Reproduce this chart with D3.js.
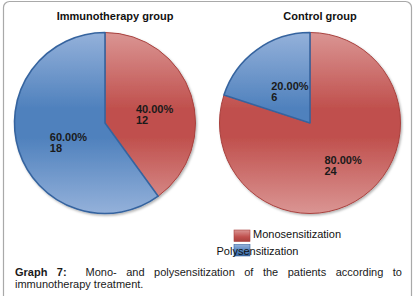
<!DOCTYPE html>
<html>
<head>
<meta charset="utf-8">
<script src="https://cdn.jsdelivr.net/npm/d3@7"></script>
<style>
  html, body { margin: 0; padding: 0; background: #fff; }
  svg { display: block; }
  text { font-family: "Liberation Sans", Arial, sans-serif; }
</style>
</head>
<body>
<svg id="chart" width="415" height="296"></svg>
<script>
const groups = ["Immunotherapy group", "Control group"];
const categories = ["Monosensitization", "Polysensitization"];
const immunotherapyValues = [12, 18];
const controlValues = [24, 6];
const captionLabel = ["Graph", "7:"];
const captionLine1 = ["Mono-", "and", "polysensitization", "of", "the", "patients", "according", "to"];
const captionLine2 = "immunotherapy treatment.";

const seriesByGroup = [immunotherapyValues, controlValues];

const svg = d3.select("#chart");
const defs = svg.append("defs");

const colors = {
  Monosensitization: { light: "#da9593", dark: "#c0504d", stroke: "#a8413e" },
  Polysensitization: { light: "#94b1da", dark: "#4f81bd", stroke: "#36649f" }
};

const radius = 90.5;
const cy = 123;
const xCenter = d3.scalePoint().domain(groups).range([105, 310]);

categories.forEach((c, i) => {
  // user space of the paths is the pie's own (centred) coordinate system
  const g = defs.append("linearGradient")
    .attr("id", "grad" + i)
    .attr("gradientUnits", "userSpaceOnUse")
    .attr("x1", 0).attr("x2", 0)
    .attr("y1", -radius).attr("y2", radius);
  g.append("stop").attr("offset", 0).attr("stop-color", colors[c].light);
  g.append("stop").attr("offset", 0.42).attr("stop-color", colors[c].dark);
  g.append("stop").attr("offset", 0.58).attr("stop-color", colors[c].dark);
  g.append("stop").attr("offset", 1).attr("stop-color", colors[c].light);

  const s = defs.append("linearGradient")
    .attr("id", "sw" + i)
    .attr("x1", 0).attr("x2", 0).attr("y1", 0).attr("y2", 1);
  s.append("stop").attr("offset", 0).attr("stop-color", colors[c].light);
  s.append("stop").attr("offset", 0.6).attr("stop-color", colors[c].dark);
  s.append("stop").attr("offset", 1).attr("stop-color", colors[c].stroke);
});

const f = defs.append("filter").attr("id", "shadow")
  .attr("x", "-10%").attr("y", "-10%").attr("width", "130%").attr("height", "130%");
f.append("feDropShadow").attr("dx", 1.2).attr("dy", 1.5)
  .attr("stdDeviation", 1.2).attr("flood-color", "#000").attr("flood-opacity", 0.3);

svg.append("rect")
  .attr("x", 3.5).attr("y", 1.5)
  .attr("width", 408).attr("height", 330)
  .attr("rx", 6)
  .attr("fill", "none")
  .attr("stroke", "#a9a9a9")
  .attr("stroke-width", 1.2);

const pie = d3.pie().sort(null).value(d => d);
const arc = d3.arc().innerRadius(0).outerRadius(radius);
const labelArc = d3.arc().innerRadius(radius * 0.5).outerRadius(radius * 0.5);
const fmt = d3.format(".2%");

groups.forEach((grp, gi) => {
  const vals = seriesByGroup[gi];
  const total = d3.sum(vals);
  const cx = xCenter(grp);
  const g = svg.append("g").attr("transform", `translate(${cx},${cy})`);

  g.append("text")
    .attr("x", 10).attr("y", 20 - cy)
    .attr("text-anchor", "middle")
    .attr("font-size", 11).attr("font-weight", "bold")
    .attr("fill", "#111")
    .text(grp);

  const slices = g.append("g").attr("filter", "url(#shadow)");
  const arcs = pie(vals);
  slices.selectAll("path").data(arcs).join("path")
    .attr("d", arc)
    .attr("fill", (d, i) => `url(#grad${i})`)
    .attr("stroke", (d, i) => colors[categories[i]].stroke)
    .attr("stroke-width", (d, i) => i === 1 ? 1.6 : 1)
    .attr("stroke-linejoin", "round");

  arcs.forEach((d, i) => {
    const [lx, ly] = labelArc.centroid(d);
    const bx = lx + 6.5, by = ly + 5.5;
    const t = g.append("text")
      .attr("font-size", 11).attr("font-weight", "bold")
      .attr("fill", "#1a1a1a");
    const t1 = t.append("tspan").attr("y", by - 1.5).text(fmt(d.data / total));
    const w = t1.node().getComputedTextLength();
    const left = bx - w / 2;
    t1.attr("x", left);
    t.append("tspan").attr("x", left).attr("y", by + 9.5).text(d.data);
  });
});

const legendSwatchX = 234;
const legendRows = [
  { y: 230, tx: 253, ty: 238 },
  { y: 244.5, tx: 216.5, ty: 254.5 }
];
categories.forEach((c, i) => {
  const r = legendRows[i];
  svg.append("rect")
    .attr("x", legendSwatchX).attr("y", r.y)
    .attr("width", 16).attr("height", 11.5)
    .attr("fill", `url(#sw${i})`)
    .attr("stroke", colors[c].stroke).attr("stroke-width", 0.6);
  svg.append("text")
    .attr("x", r.tx).attr("y", r.ty)
    .attr("font-size", 11)
    .attr("fill", "#111")
    .text(c);
});

const capLeft = 15, capRight = 402, capY1 = 275.5, capY2 = 287.5;
const capG = svg.append("g");
const tokens = [
  { text: captionLabel[0], bold: true, gapAfter: 1 },
  { text: captionLabel[1], bold: true, gapAfter: 2 },
  ...captionLine1.map((t, i) => ({ text: t, bold: false, gapAfter: i < captionLine1.length - 1 ? 1 : 0 }))
];
const nodes = tokens.map(tk => {
  const n = capG.append("text")
    .attr("y", capY1)
    .attr("font-size", 11)
    .attr("font-weight", tk.bold ? "bold" : "normal")
    .attr("fill", "#1a1a1a")
    .text(tk.text);
  return { n, w: n.node().getComputedTextLength(), gap: tk.gapAfter };
});
const totalW = d3.sum(nodes, d => d.w);
const totalGap = d3.sum(nodes, d => d.gap);
const unit = (capRight - capLeft - totalW) / totalGap;
let xx = capLeft;
nodes.forEach(d => {
  d.n.attr("x", xx);
  xx += d.w + d.gap * unit;
});
capG.append("text")
  .attr("x", capLeft).attr("y", capY2)
  .attr("font-size", 11)
  .attr("fill", "#1a1a1a")
  .text(captionLine2);
</script>
</body>
</html>
